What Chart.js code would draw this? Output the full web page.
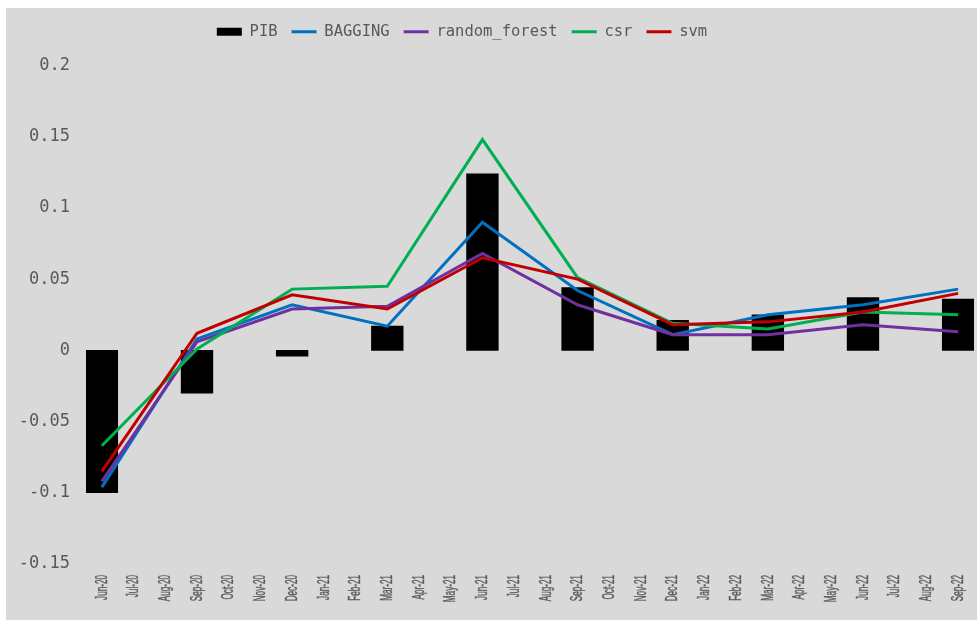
<!DOCTYPE html>
<html>
<head>
<meta charset="utf-8">
<script src="https://cdn.jsdelivr.net/npm/chart.js@4/dist/chart.umd.min.js"></script>
<style>
  html, body { margin: 0; padding: 0; background: #ffffff; }
  #wrap { position: absolute; left: 6px; top: 8px; width: 971px; height: 612px; background: #d9d9d9; }
</style>
</head>
<body>
<div id="wrap"><canvas id="chart" width="971" height="612"></canvas></div>
<script>
// monthly axis, values only on quarter months
const months = ['Jun-20', 'Jul-20', 'Aug-20', 'Sep-20', 'Oct-20', 'Nov-20', 'Dec-20',
    'Jan-21', 'Feb-21', 'Mar-21', 'Apr-21', 'May-21', 'Jun-21', 'Jul-21', 'Aug-21',
    'Sep-21', 'Oct-21', 'Nov-21', 'Dec-21', 'Jan-22', 'Feb-22', 'Mar-22', 'Apr-22',
    'May-22', 'Jun-22', 'Jul-22', 'Aug-22', 'Sep-22'];

const pib = [-0.100, null, null, -0.030, null, null, -0.004, null, null, 0.017, null, null,
    0.124, null, null, 0.044, null, null, 0.021, null, null, 0.025, null, null,
    0.037, null, null, 0.036];
const bagging = [-0.096, null, null, 0.008, null, null, 0.032, null, null, 0.017, null, null,
    0.090, null, null, 0.042, null, null, 0.011, null, null, 0.025, null, null,
    0.032, null, null, 0.043];
const randomForest = [-0.092, null, null, 0.006, null, null, 0.029, null, null, 0.031, null, null,
    0.068, null, null, 0.032, null, null, 0.011, null, null, 0.011, null, null,
    0.018, null, null, 0.013];
const csr = [-0.067, null, null, 0.001, null, null, 0.043, null, null, 0.045, null, null,
    0.148, null, null, 0.051, null, null, 0.019, null, null, 0.015, null, null,
    0.027, null, null, 0.025];
const svm = [-0.085, null, null, 0.012, null, null, 0.039, null, null, 0.029, null, null,
    0.065, null, null, 0.050, null, null, 0.018, null, null, 0.020, null, null,
    0.027, null, null, 0.040];

const yMin = -0.15, yMax = 0.2, yStep = 0.05;

const mono = "'DejaVu Sans Mono', 'Liberation Mono', monospace";
const textGray = '#595959';

function lineSet(label, data, color, order) {
    return {
        type: 'line',
        label: label,
        data: data,
        borderColor: color,
        backgroundColor: color,
        borderWidth: 3,
        pointRadius: 0,
        pointHoverRadius: 0,
        pointStyle: 'line',
        tension: 0,
        spanGaps: true,
        order: order
    };
}

// extra room under the legend, and legend sits a bit left of centre
const legendTweak = {
    id: 'legendTweak',
    beforeInit(chart) {
        const lg = chart.legend;
        const fit = lg.fit;
        const draw = lg.draw;
        lg.fit = function () {
            fit.call(this);
            this.height += 16;
        };
        lg.draw = function () {
            this.ctx.save();
            this.ctx.translate(-28, 0);
            draw.call(this);
            this.ctx.restore();
        };
    }
};

// month labels: narrow, rotated, drawn at each category tick
const monthLabels = {
    id: 'monthLabels',
    afterDraw(chart) {
        const xs = chart.scales.x;
        const c = chart.ctx;
        const top = chart.chartArea.bottom + 11;
        c.save();
        c.fillStyle = textGray;
        c.strokeStyle = textGray;
        c.lineWidth = 0.4;
        c.font = "17px 'Liberation Sans', Arial, sans-serif";
        c.textAlign = 'right';
        c.textBaseline = 'middle';
        months.forEach((m, i) => {
            const x = xs.getPixelForTick(i);
            c.save();
            c.translate(x, top);
            c.rotate(-Math.PI / 2);
            c.scale(0.48, 1);
            c.fillText(m, 0, 0);
            c.strokeText(m, 0, 0);
            c.restore();
        });
        c.restore();
    }
};

const ctx = document.getElementById('chart').getContext('2d');
const chart = new Chart(ctx, {
    type: 'bar',
    data: {
        labels: months,
        datasets: [
            {
                type: 'bar',
                label: 'PIB',
                data: pib,
                backgroundColor: '#000000',
                borderColor: '#000000',
                borderWidth: 0,
                barPercentage: 1,
                categoryPercentage: 1,
                pointStyle: 'rect',
                order: 5
            },
            lineSet('BAGGING', bagging, '#0070C0', 4),
            lineSet('random_forest', randomForest, '#7030A0', 3),
            lineSet('csr', csr, '#00B050', 2),
            lineSet('svm', svm, '#C00000', 1)
        ]
    },
    options: {
        responsive: false,
        animation: false,
        layout: { padding: { top: 2, right: 3, left: 0, bottom: 0 } },
        plugins: {
            tooltip: { enabled: false },
            legend: {
                position: 'top',
                reverse: true,
                labels: {
                    usePointStyle: true,
                    pointStyleWidth: 25,
                    boxWidth: 25,
                    boxHeight: 8,
                    padding: 14,
                    color: textGray,
                    font: { family: mono, size: 15.5 }
                }
            }
        },
        scales: {
            x: {
                grid: { display: false, drawTicks: false },
                border: { display: false },
                ticks: { display: false },
                afterFit: (scale) => { scale.height = 56; }
            },
            y: {
                min: yMin,
                max: yMax,
                grid: { display: false, drawTicks: false },
                border: { display: false },
                ticks: {
                    stepSize: yStep,
                    color: textGray,
                    font: { family: mono, size: 17 },
                    padding: 16,
                    callback: (v) => String(parseFloat(Number(v).toFixed(2)))
                },
                afterFit: (scale) => { scale.width = 80; }
            }
        }
    },
    plugins: [legendTweak, monthLabels]
});
</script>
</body>
</html>
